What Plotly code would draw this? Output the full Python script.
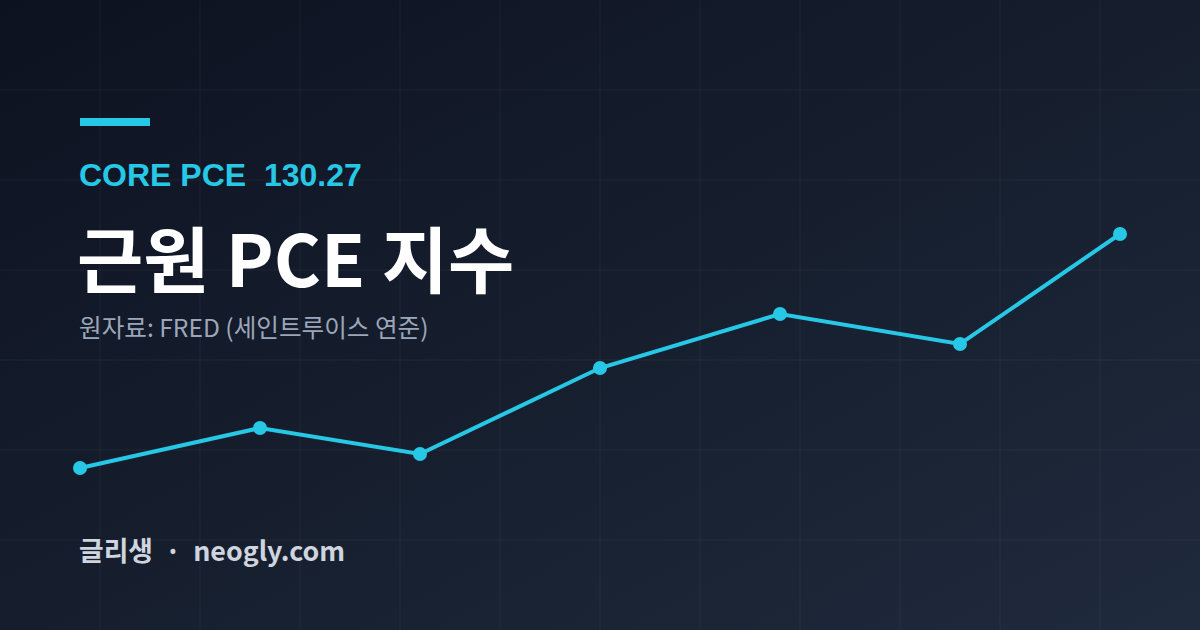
import base64
import plotly.graph_objects as go

# ---- data ----
weeks = [0, 9, 17, 26, 35, 44, 52]          # position of each observation (weeks from start)
core_pce = [129.10, 129.30, 129.17, 129.60, 129.87, 129.72, 130.27]

headline_label = "CORE PCE"
headline_value = "130.27"
title_text = "근원 PCE 지수"
source_text = "원자료: FRED (세인트루이스 연준)"
footer_text = "글리생  ·  neogly.com"

W, H = 1200, 630
CYAN = "#26c8e6"

# gradient background as an SVG image
svg = f"""<svg xmlns='http://www.w3.org/2000/svg' width='{W}' height='{H}'>
<defs><linearGradient id='g' x1='0' y1='0' x2='1' y2='1'>
<stop offset='0' stop-color='#0d1220'/><stop offset='1' stop-color='#1f2a3c'/>
</linearGradient></defs>
<rect width='{W}' height='{H}' fill='url(#g)'/></svg>"""
bg_src = "data:image/svg+xml;base64," + base64.b64encode(svg.encode()).decode()

fig = go.Figure()
fig.add_trace(go.Scatter(
    x=weeks, y=core_pce, mode="lines+markers",
    line=dict(color=CYAN, width=4),
    marker=dict(color=CYAN, size=14),
    hoverinfo="skip", showlegend=False,
))

shapes = []
grid_col = "rgba(255,255,255,0.022)"
for px in range(100, W, 100):
    shapes.append(dict(type="line", xref="paper", yref="paper", x0=px / W, x1=px / W, y0=0, y1=1,
                       line=dict(color=grid_col, width=2), layer="below"))
for py in range(90, H, 90):
    shapes.append(dict(type="line", xref="paper", yref="paper", x0=0, x1=1, y0=1 - py / H, y1=1 - py / H,
                       line=dict(color=grid_col, width=2), layer="below"))
# accent bar
shapes.append(dict(type="rect", xref="paper", yref="paper", x0=80 / W, x1=150 / W,
                   y0=1 - 126 / H, y1=1 - 118 / H, fillcolor=CYAN, line=dict(width=0)))


def ann(text, x, y, size, color, family, bold=False):
    return dict(text=(f"<b>{text}</b>" if bold else text), x=x / W, y=1 - y / H, xref="paper", yref="paper",
                xanchor="left", yanchor="middle", showarrow=False, borderpad=0,
                font=dict(size=size, color=color, family=family))


annotations = [
    ann(f"{headline_label}&nbsp;&nbsp;{headline_value}", 78, 175, 32, CYAN, "Liberation Sans, Arial", True),
    ann(title_text, 76, 255, 72, "#ffffff", "Noto Sans CJK KR", True),
    ann(source_text, 78, 326, 24.6, "#9ba7b9", "Noto Sans CJK KR"),
    ann(footer_text, 78, 549, 26.8, "#cfd5de", "Noto Sans CJK KR", True),
]

fig.update_layout(
    width=W, height=H, autosize=False,
    margin=dict(l=0, r=0, t=0, b=0),
    paper_bgcolor="#151c2b", plot_bgcolor="rgba(0,0,0,0)",
    xaxis=dict(range=[-4, 56], visible=False, fixedrange=True),
    yaxis=dict(range=[128.29, 131.44], visible=False, fixedrange=True),
    images=[dict(source=bg_src, xref="paper", yref="paper", x=0, y=1, sizex=1, sizey=1,
                 sizing="stretch", layer="below", xanchor="left", yanchor="top")],
    shapes=shapes,
    annotations=annotations,
)

fig.write_html("out.html", config={"displayModeBar": False},
               post_script="document.body.style.margin='0';document.body.style.overflow='hidden';")
